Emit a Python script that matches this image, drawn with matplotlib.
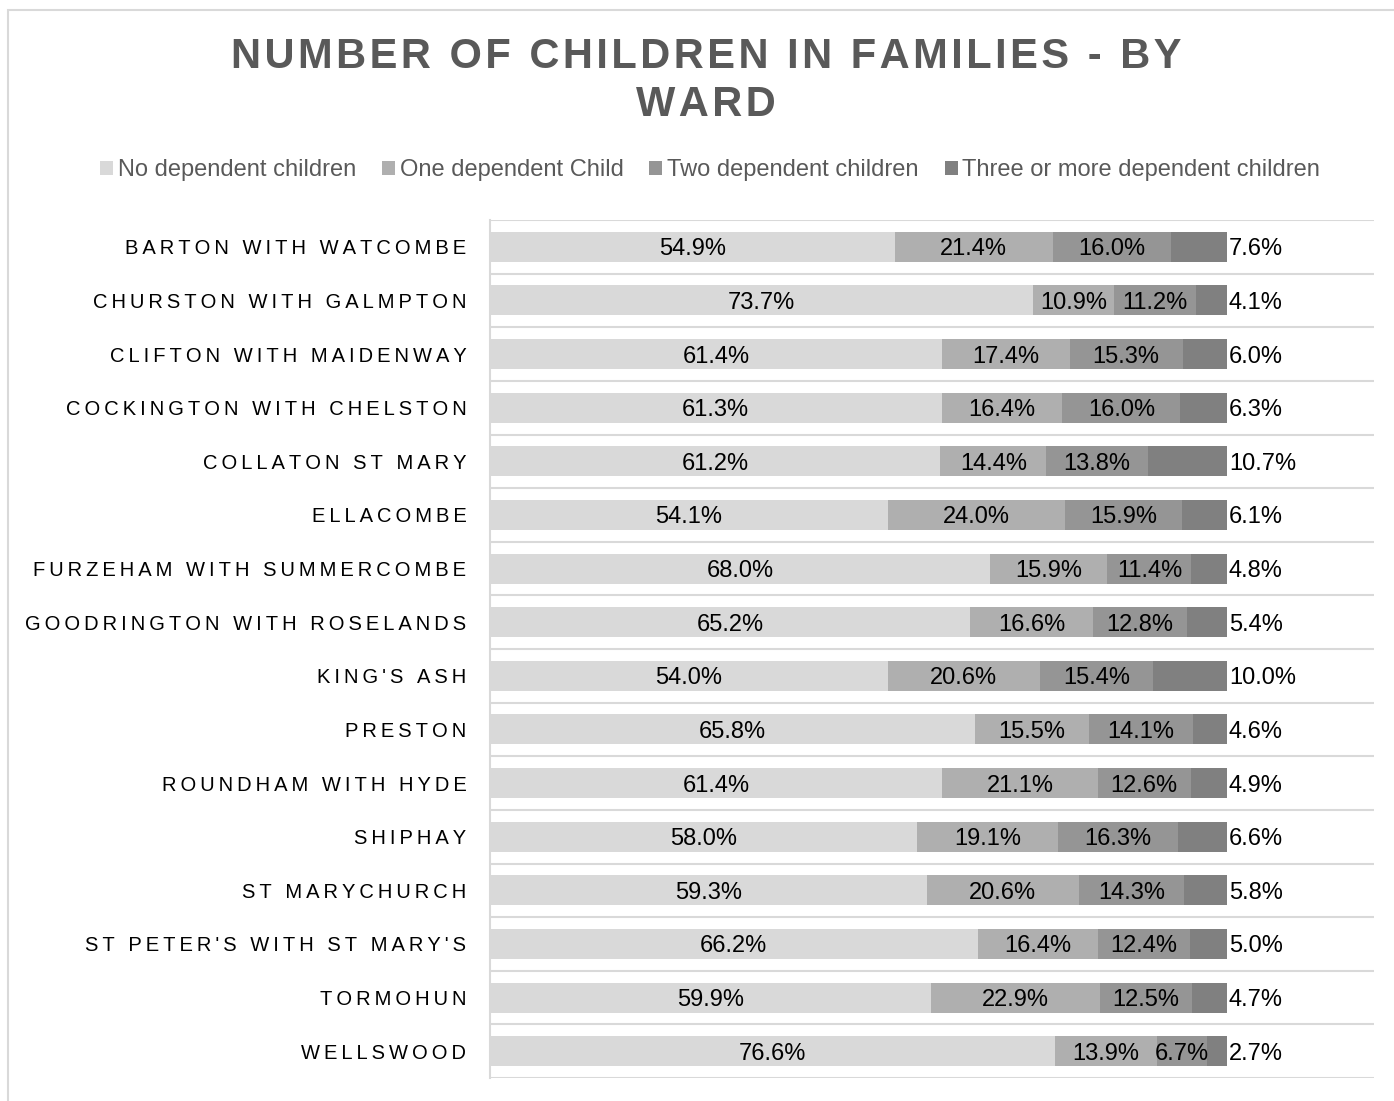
import matplotlib.pyplot as plt
from matplotlib.patches import Rectangle
import numpy as np

# Data (percent of families)
wards = ["BARTON WITH WATCOMBE", "CHURSTON WITH GALMPTON", "CLIFTON WITH MAIDENWAY",
         "COCKINGTON WITH CHELSTON", "COLLATON ST MARY", "ELLACOMBE",
         "FURZEHAM WITH SUMMERCOMBE", "GOODRINGTON WITH ROSELANDS", "KING'S ASH",
         "PRESTON", "ROUNDHAM WITH HYDE", "SHIPHAY", "ST MARYCHURCH",
         "ST PETER'S WITH ST MARY'S", "TORMOHUN", "WELLSWOOD"]
no_children = [54.9, 73.7, 61.4, 61.3, 61.2, 54.1, 68.0, 65.2, 54.0, 65.8, 61.4, 58.0, 59.3, 66.2, 59.9, 76.6]
one_child = [21.4, 10.9, 17.4, 16.4, 14.4, 24.0, 15.9, 16.6, 20.6, 15.5, 21.1, 19.1, 20.6, 16.4, 22.9, 13.9]
two_children = [16.0, 11.2, 15.3, 16.0, 13.8, 15.9, 11.4, 12.8, 15.4, 14.1, 12.6, 16.3, 14.3, 12.4, 12.5, 6.7]
three_plus = [7.6, 4.1, 6.0, 6.3, 10.7, 6.1, 4.8, 5.4, 10.0, 4.6, 4.9, 6.6, 5.8, 5.0, 4.7, 2.7]

series = ["No dependent children", "One dependent Child",
          "Two dependent children", "Three or more dependent children"]
colors = ["#d9d9d9", "#afafaf", "#959595", "#808080"]

plt.rcParams['font.family'] = ['Liberation Sans', 'DejaVu Sans']


def spaced(s, sp="\u2009"):
    # fake letter spacing like the office chart
    return sp.join(s)


fig = plt.figure(figsize=(13.94, 11.01), dpi=100)
ax = fig.add_axes([490 / 1394, 1 - 1078 / 1101, 884 / 1394, 858 / 1101])

# outer chart border
fig.patches.append(Rectangle((8 / 1394, -0.1), 1.2, 1 - 10 / 1101 + 0.1,
                             transform=fig.transFigure, fill=False,
                             edgecolor="#d9d9d9", linewidth=1.5))

data = np.array([no_children, one_child, two_children, three_plus])
totals = data.sum(axis=0)
shares = data / totals * 100
y = np.arange(len(wards))
left = np.zeros(len(wards))
for k in range(4):
    ax.barh(y, shares[k], left=left, height=0.56, color=colors[k],
            label=series[k], zorder=2)
    for i in range(len(wards)):
        txt = "%.1f%%" % data[k][i]
        if k < 3:
            ax.text(left[i] + shares[k][i] / 2, y[i], txt, ha='center',
                    va='center_baseline', fontsize=17, color="#000000", zorder=3)
        else:
            ax.text(left[i] + shares[k][i] + 0.3, y[i], txt, ha='left',
                    va='center_baseline', fontsize=17, color="#000000", zorder=3)
    left += shares[k]

ax.set_xlim(0, 120)
ax.set_ylim(len(wards) - 0.5, -0.5)
ax.set_xticks([])
ax.set_yticks(y)
ax.set_yticklabels([spaced(w) for w in wards], fontsize=14.5, color="#000000")
ax.tick_params(axis='y', length=0, pad=17)
for b in np.arange(-0.5, len(wards), 1.0):
    ax.axhline(b, color="#d9d9d9", linewidth=1.5, zorder=1)
for s in ["top", "right", "bottom"]:
    ax.spines[s].set_visible(False)
ax.spines["left"].set_color("#d9d9d9")
ax.spines["left"].set_linewidth(1.5)

fig.text(706 / 1394, 1 - 57 / 1101, spaced("NUMBER OF CHILDREN IN FAMILIES - BY", "\u200a"),
         ha='center', va='center', fontsize=30, fontweight='bold', color="#595959")
fig.text(706 / 1394, 1 - 105 / 1101, spaced("WARD", "\u200a"),
         ha='center', va='center', fontsize=30, fontweight='bold', color="#595959")

fig.legend(loc='center', bbox_to_anchor=(710 / 1394, 1 - 170 / 1101), ncol=4,
           frameon=False, fontsize=17, labelcolor="#595959",
           handlelength=0.55, handleheight=0.55, handletextpad=0.2, columnspacing=1.1)

fig.savefig("out.png", dpi=100)
